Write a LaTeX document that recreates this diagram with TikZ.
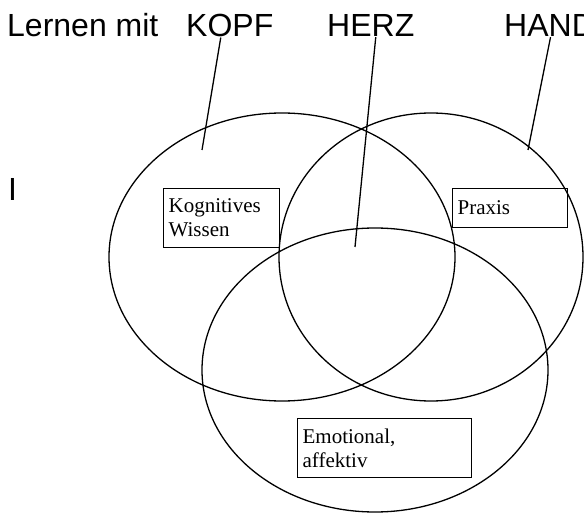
\documentclass[tikz,border=0pt]{standalone}
\usepackage{fontspec}
\setmainfont{Liberation Serif}
\newfontfamily\headfont{Liberation Sans}
\usetikzlibrary{shapes.geometric}
\tikzset{
  ring/.style={draw, ellipse, line width=1.3pt, inner sep=0pt},
  word/.style={anchor=base west, inner sep=0pt, font=\headfont\fontsize{32}{32}\selectfont},
  labelbox/.style={draw, line width=1.3pt, anchor=north west, inner xsep=5pt,
    inner ysep=0pt, align=left, font=\fontsize{21}{24}\selectfont},
  pointer/.style={line width=1.3pt}
}

\begin{document}
\begin{tikzpicture}[x=1pt,y=-1pt]
\useasboundingbox (0,0) rectangle (584,513);
\node[ring, minimum width=346pt, minimum height=288pt] (kopfring) at (282,257) {};
\node[ring, minimum width=304pt, minimum height=288pt] (handring) at (431,257) {};
\node[ring, minimum width=346pt, minimum height=284pt] (herzring) at (375,370) {};
\node[word] (lernen) at (7,37) {Lernen mit};
\node[word] (kopf) at (186,37) {KOPF};
\node[word] (herz) at (327,37) {HERZ};
\node[word] (hand) at (504,37) {HAND};
\node[word] (ich) at (8,201) {I};
\node[labelbox, text width=106pt, minimum height=59pt] (kognitiv) at (163,188) {Kognitives\\Wissen};
\node[labelbox, text width=105pt, minimum height=39pt] (praxis) at (452,188) {Praxis};
\node[labelbox, text width=164pt, minimum height=59pt] (emotion) at (297,418) {Emotional,\\affektiv};
\coordinate (kopfend) at (202,150);
\coordinate (herzend) at (355,247);
\coordinate (handend) at (528,150);
\draw[pointer] ([xshift=-9pt]kopf.south) -- (kopfend);
\draw[pointer] ([xshift=5pt]herz.south) -- (herzend);
\draw[pointer] ([xshift=1pt]hand.south) -- (handend);
\end{tikzpicture}
\end{document}
